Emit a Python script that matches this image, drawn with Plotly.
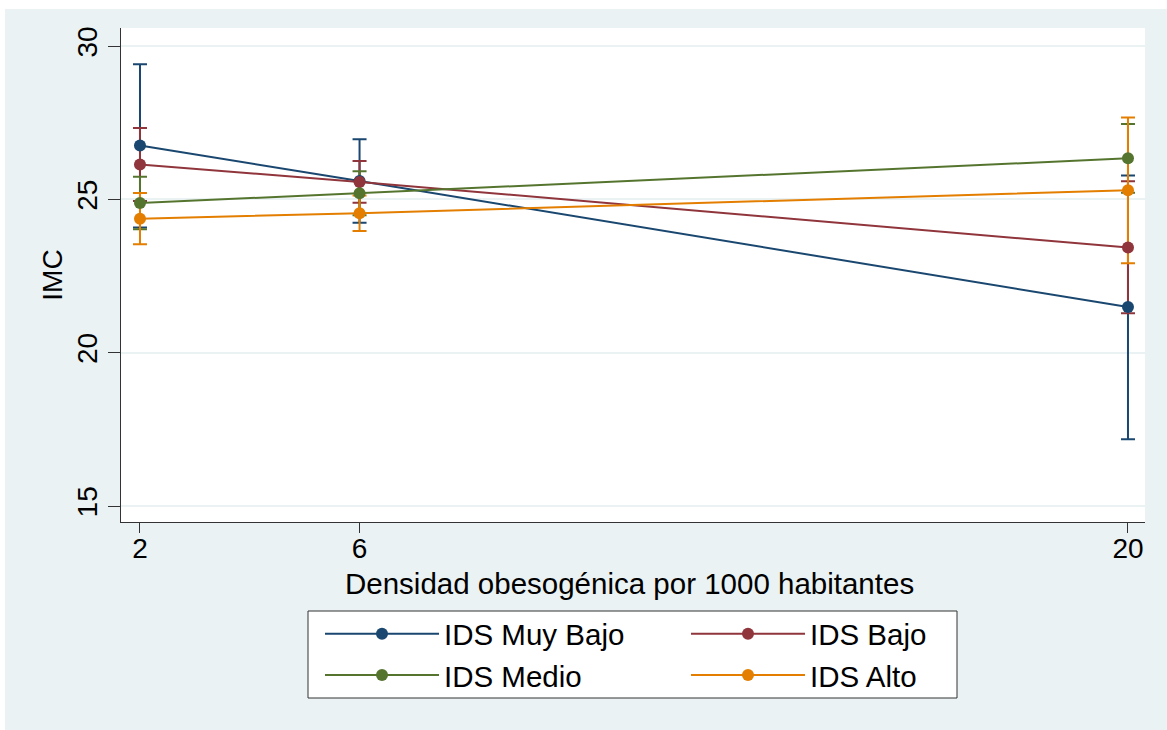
import plotly.graph_objects as go

# ---- data ----
x_vals = [2, 6, 20]
x_ticks = [2, 6, 20]
y_ticks = [15, 20, 25, 30]

series_names = ["IDS Muy Bajo", "IDS Bajo", "IDS Medio", "IDS Alto"]
series_colors = ["#1a476f", "#90353b", "#55752f", "#e37e00"]
series_legend = ["legend", "legend2", "legend", "legend2"]

muy_bajo_mean = [26.76, 25.60, 21.49]
muy_bajo_lo = [24.08, 24.24, 17.18]
muy_bajo_hi = [29.41, 26.96, 25.78]

bajo_mean = [26.14, 25.57, 23.43]
bajo_lo = [24.95, 24.89, 21.29]
bajo_hi = [27.33, 26.25, 25.59]

medio_mean = [24.88, 25.20, 26.34]
medio_lo = [24.03, 24.48, 25.22]
medio_hi = [25.74, 25.92, 27.46]

alto_mean = [24.37, 24.55, 25.30]
alto_lo = [23.54, 23.97, 22.92]
alto_hi = [25.21, 25.13, 27.67]

means = [muy_bajo_mean, bajo_mean, medio_mean, alto_mean]
lows = [muy_bajo_lo, bajo_lo, medio_lo, alto_lo]
highs = [muy_bajo_hi, bajo_hi, medio_hi, alto_hi]

x_title = "Densidad obesogénica por 1000 habitantes"
y_title = "IMC"

FONT = "Liberation Sans, Arial, sans-serif"
FS = 29.5
BG = "#eaf2f3"
AX = "#333333"

fig = go.Figure()

# confidence-interval caps first (drawn below all lines and markers)
for name, col, m, lo, hi in zip(series_names, series_colors, means, lows, highs):
    fig.add_trace(go.Scatter(
        x=x_vals, y=m, mode="markers",
        marker=dict(size=1, color=col, opacity=0),
        error_y=dict(type="data", symmetric=False,
                     array=[h - v for h, v in zip(hi, m)],
                     arrayminus=[v - l for v, l in zip(m, lo)],
                     color=col, thickness=2, width=7),
        showlegend=False, hoverinfo="skip",
    ))

# connected means
for name, col, m, lg in zip(series_names, series_colors, means, series_legend):
    fig.add_trace(go.Scatter(
        x=x_vals, y=m, mode="lines+markers", name=name, legend=lg,
        line=dict(color=col, width=2),
        marker=dict(color=col, size=12),
    ))

W, H = 1167, 730
L, R, T, B = 121, 22, 28, 208
pw, ph = W - L - R, H - T - B

def px_x(p):
    return (p - L) / pw

def px_y(p):
    return (H - B - p) / ph

legend_common = dict(
    orientation="v", xanchor="left", yanchor="top", y=px_y(608),
    bgcolor="rgba(0,0,0,0)", borderwidth=0,
    font=dict(family=FONT, size=FS, color="black"),
    itemwidth=114, tracegroupgap=0,
)

fig.update_layout(
    width=W, height=H,
    margin=dict(l=L, r=R, t=T, b=B, autoexpand=False),
    paper_bgcolor=BG, plot_bgcolor="white",
    font=dict(family=FONT, size=FS, color="black"),
    showlegend=True,
    legend=dict(x=px_x(320), **legend_common),
    legend2=dict(x=px_x(686), **legend_common),
    annotations=[
        dict(text=x_title, xref="paper", yref="paper", x=0.497, y=px_y(583),
             xanchor="center", yanchor="middle", showarrow=False,
             font=dict(family=FONT, size=FS, color="black")),
    ],
    shapes=[
        dict(type="rect", xref="paper", yref="paper", layer="below",
             x0=px_x(0), x1=px_x(W), y0=px_y(9), y1=px_y(0),
             fillcolor="white", line=dict(width=0)),
        dict(type="rect", xref="paper", yref="paper", layer="below",
             x0=px_x(0), x1=px_x(5), y0=px_y(H), y1=px_y(0),
             fillcolor="white", line=dict(width=0)),
        # legend frame
        dict(type="rect", xref="paper", yref="paper", layer="below",
             x0=px_x(308), x1=px_x(957), y0=px_y(698), y1=px_y(611),
             fillcolor="white", line=dict(color=AX, width=1)),
    ],
)

fig.update_xaxes(
    range=[1.654, 20.31], tickmode="array", tickvals=x_ticks,
    ticktext=[str(v) for v in x_ticks],
    ticks="outside", ticklen=10, tickwidth=1, tickcolor=AX,
    ticklabelstandoff=-9,
    showline=True, linecolor=AX, linewidth=1,
    showgrid=False, zeroline=False,
    tickfont=dict(family=FONT, size=28, color="black"),
)
fig.update_yaxes(
    range=[14.48, 30.59], tickmode="array", tickvals=y_ticks,
    ticktext=[str(v) for v in y_ticks],
    ticks="outside", ticklen=12, tickwidth=1, tickcolor=AX, tickangle=-90,
    showline=True, linecolor=AX, linewidth=1,
    showgrid=True, gridcolor=BG, gridwidth=2, zeroline=False,
    tickfont=dict(family=FONT, size=28, color="black"),
    title=dict(text=y_title, font=dict(family=FONT, size=28, color="black"), standoff=0),
)

fig.write_html("out.html", config={"displayModeBar": False},
               post_script="document.body.style.margin='0';")
